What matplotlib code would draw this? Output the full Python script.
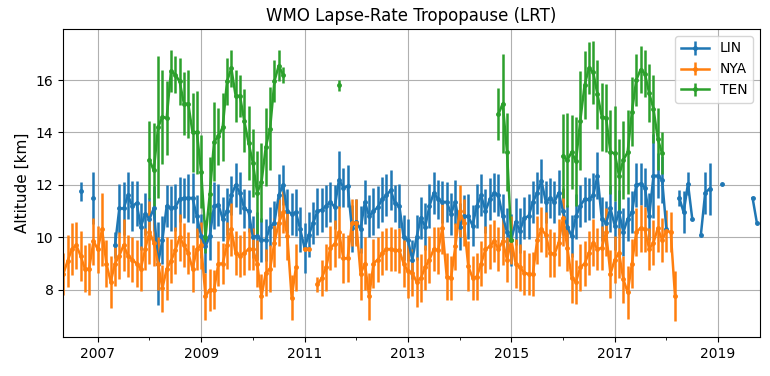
import numpy as np
import matplotlib
matplotlib.use("Agg")
import matplotlib.pyplot as plt
from matplotlib.ticker import FixedLocator, MultipleLocator

nan = np.nan

# monthly values, May 2006 .. Oct 2019 (one row per year)
lin_alt = [
    nan, nan, nan, nan, 11.75, nan, nan, 11.5,                                  # 2006
    nan, nan, nan, nan, 9.7, 11.1, 11.1, 11.6, 11.2, 11.3, 10.4, 10.9,          # 2007
    10.7, 11.1, 9.0, 9.9, 11.2, 11.1, 11.15, 11.45, 11.5, 11.5, 11.5, 10.8,     # 2008
    10.05, 9.65, 10.05, 11.2, 11.25, 10.7, 11.0, 11.6, 12.0, 11.7, 11.1, 11.0,  # 2009
    10.0, 10.05, 9.9, 9.9, 10.4, 10.55, 11.6, 12.0, 11.0, 10.9, 10.95, 10.3,    # 2010
    9.6, 10.1, 10.55, 11.0, 11.05, 11.2, 11.35, 11.15, 12.2, 11.9, 11.95, 10.35,  # 2011
    10.6, 10.3, 11.35, 10.8, 11.0, 11.15, 11.45, 11.6, 11.8, 11.3, 11.2, 10.0,  # 2012
    9.9, 9.15, 10.0, 10.75, 10.4, 11.2, 11.7, 11.45, 11.35, 11.35, 10.9, 11.35,  # 2013
    10.4, 10.8, 10.8, 10.45, 11.2, 11.6, 11.0, 11.45, 11.7, 11.6, 10.8, 10.2,   # 2014
    9.9, 10.6, 10.25, 10.75, 10.8, 11.35, 11.7, 12.15, 11.35, 11.5, 11.35, 11.7,  # 2015
    11.0, 10.4, 10.05, 10.8, 11.2, 11.45, 11.45, 11.6, 12.35, 10.7, 10.55, 11.1,  # 2016
    10.45, 10.95, 10.2, 10.7, 10.95, 12.0, 12.05, 11.9, 10.8, 12.35, 12.35, 12.2,  # 2017
    10.3, nan, nan, 11.5, 10.95, 12.05, 10.7, nan, 10.1, 11.7, 11.85, nan,      # 2018
    nan, 12.05, nan, nan, nan, nan, nan, nan, 11.5, 10.55,                      # 2019
]
lin_err = [
    nan, nan, nan, nan, 0.35, nan, nan, 1.0,
    nan, nan, nan, nan, 0.5, 0.95, 1.0, 0.9, 0.95, 0.85, 0.9, 0.8,
    0.8, 0.85, 1.6, 0.9, 0.8, 0.85, 0.9, 0.85, 0.75, 0.9, 0.95, 0.8,
    0.85, 1.0, 0.9, 0.9, 0.8, 0.85, 0.9, 0.75, 0.85, 0.8, 0.75, 0.8,
    0.8, 0.9, 0.85, 0.8, 0.75, 0.85, 0.8, 0.75, 0.85, 0.8, 0.9, 0.85,
    0.95, 0.85, 0.8, 0.9, 0.85, 0.8, 0.75, 0.85, 1.1, 0.75, 0.8, 0.9,
    0.85, 0.9, 0.85, 0.8, 0.9, 0.8, 0.85, 0.8, 0.75, 0.7, 0.85, 0.85,
    0.8, 0.75, 0.85, 0.8, 0.9, 0.85, 0.8, 0.75, 0.8, 0.75, 0.8, 0.85,
    0.9, 0.8, 0.85, 0.8, 0.85, 0.8, 0.85, 0.8, 0.75, 0.8, 0.85, 0.9,
    1.0, 0.9, 0.85, 0.8, 0.85, 0.8, 0.8, 0.85, 0.8, 0.75, 0.8, 0.85,
    0.9, 0.85, 0.8, 0.85, 0.8, 0.85, 0.8, 0.85, 0.9, 0.85, 0.85, 0.9,
    0.95, 0.85, 0.9, 0.85, 0.8, 0.85, 0.8, 0.75, 0.9, 1.6, 0.85, 0.9,
    0.0, nan, nan, 0.3, 0.8, 0.45, 0.0, nan, 0.0, 0.8, 1.0, nan,
    nan, 0.0, nan, nan, nan, nan, nan, nan, 0.05, 0.0,
]

nya_alt = [
    8.6, 9.1, 9.55, 9.7, 9.3, 8.8, 8.8, 9.85,
    9.55, 10.3, 9.0, 8.3, 9.0, 9.3, 9.7, 9.3, 9.15, 9.0, 8.8, 9.55,
    10.2, 9.8, 9.0, 8.05, 8.8, 9.1, 9.5, 10.0, 9.7, 9.4, 8.8, 9.55,
    9.7, 7.75, 8.0, 8.0, 9.0, 9.0, 9.7, 10.3, 9.4, 9.3, 9.4, 9.55,
    9.55, 9.0, 7.75, 8.65, 8.8, 9.8, 10.55, 10.95, 10.05, 7.7, 8.85, nan,
    9.55, 9.55, nan, 8.2, 8.45, 8.85, 9.6, 9.75, 10.2, 9.2, 9.2, 10.55,
    10.55, 8.6, 9.0, 7.75, 9.0, 9.15, 9.4, 9.55, 9.55, 9.5, 9.5, 9.0,
    8.7, 8.65, 8.3, 8.45, 8.85, 9.15, 9.55, 9.5, 10.35, 8.5, 8.45, 9.65,
    11.0, 10.55, 8.9, 8.45, 8.5, 9.0, 9.55, 9.65, 9.85, 9.55, 9.85, 9.15,
    9.9, 9.0, 8.85, 8.65, 8.6, 8.6, 9.9, 10.3, 10.1, 9.4, 9.35, 9.8,
    10.75, 9.6, 8.45, 8.3, 8.85, 9.0, 9.4, 9.8, 9.55, 9.6, 10.2, 8.6,
    9.15, 9.4, 8.4, 7.9, 9.0, 10.2, 10.35, 10.3, 9.55, 9.8, 10.35, 9.9,
    10.25, 10.2, 7.75, nan, nan, nan, nan, nan, nan, nan, nan, nan,
    nan, nan, nan, nan, nan, nan, nan, nan, nan, nan,
]
nya_err = [
    0.8, 1.0, 1.0, 0.9, 0.95, 0.9, 1.0, 0.9,
    0.9, 1.4, 0.9, 1.0, 0.85, 0.9, 1.0, 0.8, 0.85, 0.9, 0.85, 0.8,
    1.2, 0.9, 1.0, 0.9, 1.2, 0.85, 0.9, 0.9, 0.85, 0.8, 0.9, 0.8,
    0.9, 0.9, 0.8, 0.75, 0.85, 0.8, 0.9, 1.0, 0.85, 0.8, 0.85, 0.8,
    0.8, 0.9, 0.85, 0.9, 0.9, 0.95, 0.9, 0.8, 0.9, 0.85, 0.9, nan,
    0.0, 0.0, nan, 0.3, 0.7, 0.9, 0.85, 0.9, 1.0, 0.95, 0.9, 0.9,
    0.9, 1.0, 1.0, 0.9, 0.95, 0.85, 0.85, 0.8, 0.85, 0.8, 0.85, 0.9,
    1.0, 0.9, 0.95, 0.9, 0.85, 0.9, 0.85, 0.9, 1.0, 0.9, 0.85, 0.9,
    1.0, 0.9, 0.95, 0.85, 0.9, 0.85, 0.9, 0.85, 0.8, 0.85, 0.9, 0.85,
    0.9, 0.95, 0.9, 0.85, 0.8, 0.85, 0.9, 0.85, 0.85, 0.9, 0.85, 0.9,
    1.1, 0.9, 0.95, 0.85, 0.9, 0.85, 0.85, 0.9, 0.8, 0.85, 0.9, 0.9,
    0.9, 0.95, 0.9, 1.0, 0.95, 0.9, 0.9, 0.85, 0.8, 0.85, 0.9, 0.85,
    0.8, 0.75, 0.95, nan, nan, nan, nan, nan, nan, nan, nan, nan,
    nan, nan, nan, nan, nan, nan, nan, nan, nan, nan,
]

ten_alt = [
    nan, nan, nan, nan, nan, nan, nan, nan,
    nan, nan, nan, nan, nan, nan, nan, nan, nan, nan, nan, nan,
    12.95, 12.55, 14.2, 14.6, 14.55, 16.35, 16.2, 15.95, 15.1, 15.1, 14.0, 14.0,
    12.5, 10.0, 11.65, 13.65, 13.85, 14.2, 15.95, 16.45, 15.4, 15.4, 14.45, 13.6,
    12.85, 11.7, 12.1, 13.45, 14.15, 15.95, 16.55, 16.2, nan, nan, nan, nan,
    nan, nan, nan, nan, nan, nan, nan, nan, 15.8, nan, nan, nan,
    nan, nan, nan, nan, nan, nan, nan, nan, nan, nan, nan, nan,
    nan, nan, nan, nan, nan, nan, nan, nan, nan, nan, nan, nan,
    nan, nan, nan, nan, nan, nan, nan, nan, nan, 14.7, 15.1, 13.25,
    9.9, nan, nan, nan, nan, nan, nan, nan, nan, nan, nan, nan,
    13.1, 12.95, 13.25, 12.9, 14.45, 15.8, 16.45, 16.3, 15.45, 14.6, 14.55, 13.25,
    13.2, 12.35, 12.95, 13.25, 14.8, 16.0, 16.4, 16.25, 15.5, 14.9, 13.75, 13.2,
    nan, nan, nan, nan, nan, nan, nan, nan, nan, nan, nan, nan,
    nan, nan, nan, nan, nan, nan, nan, nan, nan, nan,
]
ten_err = [
    nan, nan, nan, nan, nan, nan, nan, nan,
    nan, nan, nan, nan, nan, nan, nan, nan, nan, nan, nan, nan,
    1.5, 1.8, 2.7, 1.8, 1.4, 0.8, 0.7, 0.9, 1.2, 1.3, 1.5, 1.6,
    1.4, 0.6, 1.4, 1.5, 1.1, 1.3, 0.9, 0.7, 1.0, 0.8, 1.2, 1.4,
    1.3, 1.6, 1.5, 1.5, 1.6, 0.8, 0.6, 0.3, nan, nan, nan, nan,
    nan, nan, nan, nan, nan, nan, nan, nan, 0.2, nan, nan, nan,
    nan, nan, nan, nan, nan, nan, nan, nan, nan, nan, nan, nan,
    nan, nan, nan, nan, nan, nan, nan, nan, nan, nan, nan, nan,
    nan, nan, nan, nan, nan, nan, nan, nan, nan, 1.0, 1.9, 1.5,
    0.1, nan, nan, nan, nan, nan, nan, nan, nan, nan, nan, nan,
    1.6, 1.8, 1.4, 1.7, 1.9, 1.3, 1.0, 1.2, 1.3, 1.3, 1.3, 1.6,
    1.8, 1.4, 1.5, 1.6, 1.3, 1.0, 0.9, 0.9, 1.1, 1.3, 1.2, 0.8,
    nan, nan, nan, nan, nan, nan, nan, nan, nan, nan, nan, nan,
    nan, nan, nan, nan, nan, nan, nan, nan, nan, nan,
]

# decimal years, first month is May 2006
t = 2006 + 4 / 12 + np.arange(len(lin_alt)) / 12

fig, ax = plt.subplots(figsize=(7.7, 3.76), dpi=100)
fig.subplots_adjust(left=0.082, right=0.987, top=0.923, bottom=0.104)

for alt, err, name in [(lin_alt, lin_err, "LIN"), (nya_alt, nya_err, "NYA"), (ten_alt, ten_err, "TEN")]:
    ax.errorbar(t, alt, yerr=err, fmt=".-", lw=1.8, elinewidth=1.8, ms=5, label=name)

ax.set_xlim(2006.33, 2019.81)
ax.set_ylim(6.2, 17.95)
ax.xaxis.set_major_locator(FixedLocator(range(2007, 2020, 2)))
ax.xaxis.set_minor_locator(MultipleLocator(1))
ax.set_xticklabels([str(y) for y in range(2007, 2020, 2)])
ax.grid(True)
ax.set_ylabel("Altitude [km]", fontsize=11)
ax.set_title("WMO Lapse-Rate Tropopause (LRT)", fontsize=12)
ax.legend(loc="upper right")

fig.savefig("out.png")
